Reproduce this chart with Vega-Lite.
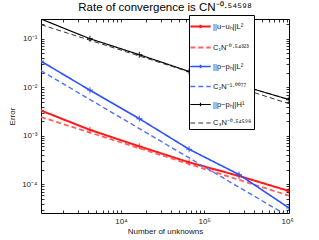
{
  "$schema": "https://vega.github.io/schema/vega-lite/v6.json",
  "width": 248,
  "height": 194,
  "autosize": {"type": "none"},
  "padding": {"left": 41, "top": 19, "right": 30, "bottom": 27},
  "background": "white",
  "title": {"text": "Rate of convergence is CN⁻⁰·⁵⁴⁵⁹⁸", "fontSize": 11.5, "fontWeight": "normal", "font": "Liberation Sans", "offset": -8, "baseline": "alphabetic", "anchor": "middle", "frame": "group", "color": "#000"},
  "data": {"values": [
    {"N": 1089, "err": 0.00331, "series": "||u−uₕ||L²"},
    {"N": 4225, "err": 0.00132, "series": "||u−uₕ||L²"},
    {"N": 16641, "err": 0.000603, "series": "||u−uₕ||L²"},
    {"N": 66049, "err": 0.000282, "series": "||u−uₕ||L²"},
    {"N": 263169, "err": 0.000148, "series": "||u−uₕ||L²"},
    {"N": 1050625, "err": 0.0000724, "series": "||u−uₕ||L²"},
    {"N": 1089, "err": 0.00243, "series": "C₁N⁻⁰·⁵⁴³²³"},
    {"N": 4225, "err": 0.00116, "series": "C₁N⁻⁰·⁵⁴³²³"},
    {"N": 16641, "err": 0.000552, "series": "C₁N⁻⁰·⁵⁴³²³"},
    {"N": 66049, "err": 0.000261, "series": "C₁N⁻⁰·⁵⁴³²³"},
    {"N": 263169, "err": 0.000123, "series": "C₁N⁻⁰·⁵⁴³²³"},
    {"N": 1050625, "err": 0.0000581, "series": "C₁N⁻⁰·⁵⁴³²³"},
    {"N": 1089, "err": 0.0344, "series": "||p−pₕ||L²"},
    {"N": 4225, "err": 0.00867, "series": "||p−pₕ||L²"},
    {"N": 16641, "err": 0.00224, "series": "||p−pₕ||L²"},
    {"N": 66049, "err": 0.000525, "series": "||p−pₕ||L²"},
    {"N": 263169, "err": 0.000158, "series": "||p−pₕ||L²"},
    {"N": 1050625, "err": 0.0000324, "series": "||p−pₕ||L²"},
    {"N": 1089, "err": 0.0219, "series": "C₂N⁻¹·⁰⁰⁷⁷"},
    {"N": 4225, "err": 0.00557, "series": "C₂N⁻¹·⁰⁰⁷⁷"},
    {"N": 16641, "err": 0.0014, "series": "C₂N⁻¹·⁰⁰⁷⁷"},
    {"N": 66049, "err": 0.000349, "series": "C₂N⁻¹·⁰⁰⁷⁷"},
    {"N": 263169, "err": 0.0000867, "series": "C₂N⁻¹·⁰⁰⁷⁷"},
    {"N": 1050625, "err": 0.0000215, "series": "C₂N⁻¹·⁰⁰⁷⁷"},
    {"N": 1089, "err": 0.255, "series": "||p−pₕ||H¹"},
    {"N": 4225, "err": 0.1, "series": "||p−pₕ||H¹"},
    {"N": 16641, "err": 0.0468, "series": "||p−pₕ||H¹"},
    {"N": 66049, "err": 0.0211, "series": "||p−pₕ||H¹"},
    {"N": 263169, "err": 0.0112, "series": "||p−pₕ||H¹"},
    {"N": 1050625, "err": 0.00557, "series": "||p−pₕ||H¹"},
    {"N": 1089, "err": 0.195, "series": "C₃N⁻⁰·⁵⁴⁵⁹⁸"},
    {"N": 4225, "err": 0.0929, "series": "C₃N⁻⁰·⁵⁴⁵⁹⁸"},
    {"N": 16641, "err": 0.044, "series": "C₃N⁻⁰·⁵⁴⁵⁹⁸"},
    {"N": 66049, "err": 0.0207, "series": "C₃N⁻⁰·⁵⁴⁵⁹⁸"},
    {"N": 263169, "err": 0.00975, "series": "C₃N⁻⁰·⁵⁴⁵⁹⁸"},
    {"N": 1050625, "err": 0.00457, "series": "C₃N⁻⁰·⁵⁴⁵⁹⁸"}
  ]},
  "layer": [
    {
      "mark": {"type": "line", "clip": true},
      "encoding": {
        "x": {"field": "N", "type": "quantitative",
          "scale": {"type": "log", "domain": [1089, 1050625], "nice": false},
          "axis": {"orient": "bottom", "title": "Number of unknowns", "tickCount": 10, "labelOverlap": false, "labelFlush": false,
            "labelExpr": "abs(log(datum.value)/LN10 - round(log(datum.value)/LN10)) > 0.001 ? '' : round(log(datum.value)/LN10) == 4 ? '10⁴' : round(log(datum.value)/LN10) == 5 ? '10⁵' : round(log(datum.value)/LN10) == 6 ? '10⁶' : ''",
            "tickSize": -3,
            "labelPadding": 7, "titlePadding": 2}},
        "y": {"field": "err", "type": "quantitative",
          "scale": {"type": "log", "domain": [0.0000255, 0.255], "nice": false},
          "axis": {"orient": "left", "title": "Error", "tickCount": 10, "labelOverlap": false, "labelFlush": false,
            "labelExpr": "abs(log(datum.value)/LN10 - round(log(datum.value)/LN10)) > 0.001 ? '' : round(log(datum.value)/LN10) == -1 ? '10⁻¹' : round(log(datum.value)/LN10) == -2 ? '10⁻²' : round(log(datum.value)/LN10) == -3 ? '10⁻³' : round(log(datum.value)/LN10) == -4 ? '10⁻⁴' : ''",
            "tickSize": -3,
            "labelPadding": 7, "titlePadding": 5}},
        "color": {"field": "series", "type": "nominal",
          "scale": {"domain": ["||u−uₕ||L²", "C₁N⁻⁰·⁵⁴³²³", "||p−pₕ||L²", "C₂N⁻¹·⁰⁰⁷⁷", "||p−pₕ||H¹", "C₃N⁻⁰·⁵⁴⁵⁹⁸"],
                    "range": ["#ff1a1a", "#ff6060", "#2e50ff", "#5070ff", "#000000", "#333333"]},
          "legend": {"orient": "none", "legendX": 148, "legendY": -4, "title": null,
            "strokeColor": "black", "fillColor": "white", "padding": 2, "offset": 0,
            "labelFontSize": 7.5, "labelFont": "Liberation Sans", "labelColor": "#111", "labelLimit": 0,
            "symbolSize": 289, "rowPadding": 5, "labelOffset": 3,
            "encode": {"symbols": {"update": {
              "shape": {"signal": "indexof(datum.value, 'C') === 0 ? 'M-1.2,0L1.2,0' : 'M-1.2,0L1.2,0M0,-0.22L0,0.22'"},
              "strokeWidth": {"signal": "indexof(datum.value, 'C') === 0 ? 1 : 2"},
              "fill": {"value": "transparent"}}}}}},
        "strokeDash": {"field": "series", "type": "nominal",
          "scale": {"domain": ["||u−uₕ||L²", "C₁N⁻⁰·⁵⁴³²³", "||p−pₕ||L²", "C₂N⁻¹·⁰⁰⁷⁷", "||p−pₕ||H¹", "C₃N⁻⁰·⁵⁴⁵⁹⁸"],
                    "range": [[1, 0], [5, 3], [1, 0], [5, 3], [1, 0], [5, 3]]}},
        "strokeWidth": {"field": "series", "type": "nominal",
          "scale": {"domain": ["||u−uₕ||L²", "C₁N⁻⁰·⁵⁴³²³", "||p−pₕ||L²", "C₂N⁻¹·⁰⁰⁷⁷", "||p−pₕ||H¹", "C₃N⁻⁰·⁵⁴⁵⁹⁸"],
                    "range": [2, 1, 2, 1, 2, 1]}}
      }
    },
    {
      "transform": [{"filter": "indexof(datum.series, 'C') !== 0"}],
      "mark": {"type": "point", "shape": "M-1,0L1,0M0,-1L0,1", "filled": false, "size": 36, "strokeWidth": 1.3, "clip": true},
      "encoding": {
        "x": {"field": "N", "type": "quantitative",
          "scale": {"type": "log", "domain": [1089, 1050625], "nice": false},
          "axis": {"orient": "top", "title": null, "labels": false, "tickCount": 10, "tickSize": -3}},
        "y": {"field": "err", "type": "quantitative",
          "scale": {"type": "log", "domain": [0.0000255, 0.255], "nice": false},
          "axis": {"orient": "right", "title": null, "labels": false, "tickCount": 10, "tickSize": -3}},
        "stroke": {"field": "series", "type": "nominal",
          "scale": {"domain": ["||u−uₕ||L²", "||p−pₕ||L²", "||p−pₕ||H¹"], "range": ["#ff1a1a", "#2e50ff", "#000000"]},
          "legend": null}
      }
    }
  ],
  "resolve": {"axis": {"x": "independent", "y": "independent"}},
  "config": {
    "view": {"stroke": "black", "strokeWidth": 1},
    "axis": {"domain": false, "grid": false, "tickColor": "black", "tickWidth": 0.8,
      "labelFont": "Liberation Sans", "titleFont": "Liberation Sans", "labelFontSize": 8, "titleFontSize": 8,
      "titleFontWeight": "normal", "labelColor": "#222", "titleColor": "#222"}
  }
}
